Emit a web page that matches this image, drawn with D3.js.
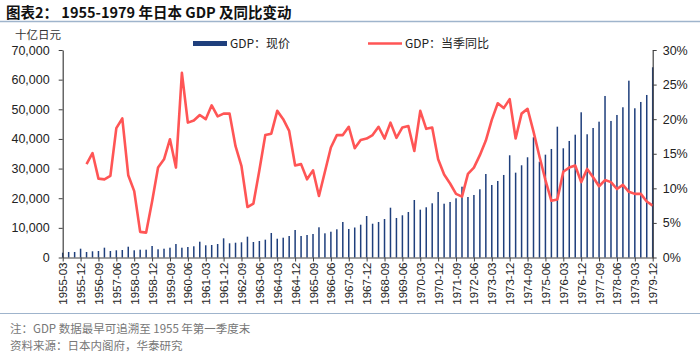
<!DOCTYPE html>
<html><head><meta charset="utf-8">
<script src="https://cdn.jsdelivr.net/npm/d3@7"></script>
<style>
body{margin:0;background:#fff;}
svg text{font-family:"Liberation Sans",Arial,"Noto Sans CJK SC",sans-serif;}
.cjk{font-family:"Noto Sans CJK SC","Liberation Sans",sans-serif;}
</style></head>
<body><svg id="c" width="700" height="359"></svg>
<script>
const quarters = [
"1955-03","1955-06","1955-09","1955-12","1956-03","1956-06","1956-09","1956-12",
"1957-03","1957-06","1957-09","1957-12","1958-03","1958-06","1958-09","1958-12",
"1959-03","1959-06","1959-09","1959-12","1960-03","1960-06","1960-09","1960-12",
"1961-03","1961-06","1961-09","1961-12","1962-03","1962-06","1962-09","1962-12",
"1963-03","1963-06","1963-09","1963-12","1964-03","1964-06","1964-09","1964-12",
"1965-03","1965-06","1965-09","1965-12","1966-03","1966-06","1966-09","1966-12",
"1967-03","1967-06","1967-09","1967-12","1968-03","1968-06","1968-09","1968-12",
"1969-03","1969-06","1969-09","1969-12","1970-03","1970-06","1970-09","1970-12",
"1971-03","1971-06","1971-09","1971-12","1972-03","1972-06","1972-09","1972-12",
"1973-03","1973-06","1973-09","1973-12","1974-03","1974-06","1974-09","1974-12",
"1975-03","1975-06","1975-09","1975-12","1976-03","1976-06","1976-09","1976-12",
"1977-03","1977-06","1977-09","1977-12","1978-03","1978-06","1978-09","1978-12",
"1979-03","1979-06","1979-09","1979-12"];

// GDP, current prices, billion yen
const gdp = [
1620,1860,1860,2970,1860,2090,2190,3310,2190,2430,2530,3640,2430,2630,2630,3880,
2770,2970,3310,4550,3310,3540,3780,5330,4120,4220,4550,6470,4790,4990,5130,7020,
5230,5570,6010,8270,6340,6680,7250,9280,7250,7590,7930,10190,8160,8700,9510,11980,
9620,10120,11070,14000,11400,11980,12990,16800,13330,14240,15350,19400,16130,16940,18290,22100,
18150,18730,19970,23890,20410,21090,23010,28170,24460,25810,27840,34480,28620,31110,33810,40560,
32320,34690,36610,44130,36840,39310,41430,48990,41570,43690,45820,54490,46060,48080,50680,59650,
50340,52470,54830,64170];

// GDP year-on-year growth, %
const yoy = [
null,null,null,null,13.5,15.1,11.4,11.3,11.8,18.7,20.1,11.9,9.6,3.7,3.6,8.1,
13.0,14.2,17.1,13.0,26.7,19.5,19.8,20.6,20.0,22.0,20.4,20.8,20.8,16.1,13.2,7.3,
7.8,12.6,17.7,17.9,21.2,20.0,18.3,13.3,13.5,11.3,12.6,8.9,12.4,15.9,17.7,17.7,
18.9,15.8,17.0,17.2,17.7,18.9,17.2,19.5,17.3,18.8,19.0,15.4,21.2,18.6,18.8,14.2,
12.0,10.7,9.2,8.8,12.1,13.0,14.8,16.9,19.9,22.3,21.6,22.9,17.2,20.8,21.5,18.2,
14.6,11.2,8.2,8.4,12.4,13.0,13.3,10.9,12.8,11.6,10.3,11.2,10.9,9.9,10.5,9.5,
9.2,9.2,8.1,7.5];

const leftTicks = [0,10000,20000,30000,40000,50000,60000,70000];
const rightTicks = [0,5,10,15,20,25,30];
const labelQuarters = quarters.filter((q,i)=>i%3===0);

const title = "图表2：  1955-1979 年日本 GDP 及同比变动";
const unitLabel = "十亿日元";
const legendBar = "GDP：现价";
const legendLine = "GDP：当季同比";
const note1 = "注：GDP 数据最早可追溯至 1955 年第一季度末";
const note2 = "资料来源：日本内阁府，华泰研究";

const svg = d3.select("#c");
const L = 62.7, R = 652.7, T = 50, B = 257.5;
const axisColor = "#404040";
const barColor = "#1f3f7c";
const lineColor = "#ff5555";

const x = d3.scalePoint().domain(quarters).range([L, R]);
const yL = d3.scaleLinear().domain([0,70000]).range([B, T]);
const yR = d3.scaleLinear().domain([0,30]).range([B, T]);

// title
svg.append("text").attr("x",6).attr("y",18).attr("font-size",14.5).attr("font-weight","bold")
  .attr("class","cjk").attr("fill","#111").text(title);
svg.append("line").attr("x1",0).attr("x2",700).attr("y1",21.5).attr("y2",21.5)
  .attr("stroke","#9fb4cc").attr("stroke-width",1.5);

// unit
svg.append("text").attr("class","cjk").attr("x",15).attr("y",39).attr("font-size",11.5)
  .attr("fill","#333").text(unitLabel);

// bars
svg.append("g").selectAll("rect").data(quarters).join("rect")
  .attr("x", d => x(d) - 0.75)
  .attr("width", 1.5)
  .attr("y", (d,i) => yL(gdp[i]))
  .attr("height", (d,i) => B - yL(gdp[i]))
  .attr("fill", barColor);

// line
const line = d3.line().defined(d => d.v != null).x(d => x(d.q)).y(d => yR(d.v));
svg.append("path").datum(quarters.map((q,i)=>({q, v: yoy[i]})))
  .attr("d", line).attr("fill","none").attr("stroke",lineColor)
  .attr("stroke-width",2.6).attr("stroke-linejoin","round");

// left axis
const gL = svg.append("g").attr("transform",`translate(${L},0)`)
  .call(d3.axisLeft(yL).tickValues(leftTicks).tickFormat(d3.format(",")).tickSize(4).tickSizeOuter(0));
// right axis
const gR = svg.append("g").attr("transform",`translate(${R},0)`)
  .call(d3.axisRight(yR).tickValues(rightTicks).tickFormat(d => d + "%").tickSize(4).tickSizeOuter(0));
// bottom axis
const gB = svg.append("g").attr("transform",`translate(0,${B})`)
  .call(d3.axisBottom(x).tickValues(labelQuarters).tickSize(4).tickSizeOuter(0));
gB.selectAll("text").attr("transform","rotate(-90)").attr("text-anchor","end")
  .attr("x",-5).attr("y",0).attr("dy","0.35em");

[gL,gR,gB].forEach(g => {
  g.select(".domain").attr("stroke",axisColor).attr("stroke-width",1.2);
  g.selectAll(".tick line").attr("stroke",axisColor);
  g.selectAll("text").attr("fill","#222").attr("font-family","'Liberation Sans',Arial,sans-serif");
});
gL.selectAll("text").attr("font-size",12.5).attr("x",-13);
gR.selectAll("text").attr("font-size",12.5).attr("x",10);
gB.selectAll("text").attr("font-size",11.5);

// legend
svg.append("rect").attr("x",193).attr("y",41).attr("width",34).attr("height",5).attr("fill",barColor);
svg.append("text").attr("class","cjk").attr("x",230).attr("y",48).attr("font-size",12).attr("fill","#222").text(legendBar);
svg.append("line").attr("x1",368).attr("x2",402).attr("y1",43.5).attr("y2",43.5)
  .attr("stroke",lineColor).attr("stroke-width",2.6);
svg.append("text").attr("class","cjk").attr("x",405).attr("y",48).attr("font-size",12).attr("fill","#222").text(legendLine);

// footer
svg.append("line").attr("x1",0).attr("x2",700).attr("y1",313.5).attr("y2",313.5)
  .attr("stroke","#9fb4cc").attr("stroke-width",1.2);
svg.append("text").attr("class","cjk").attr("x",10).attr("y",333).attr("font-size",11.5).attr("fill","#777").text(note1);
svg.append("text").attr("class","cjk").attr("x",10).attr("y",350).attr("font-size",11.5).attr("fill","#777").text(note2);
</script></body></html>
